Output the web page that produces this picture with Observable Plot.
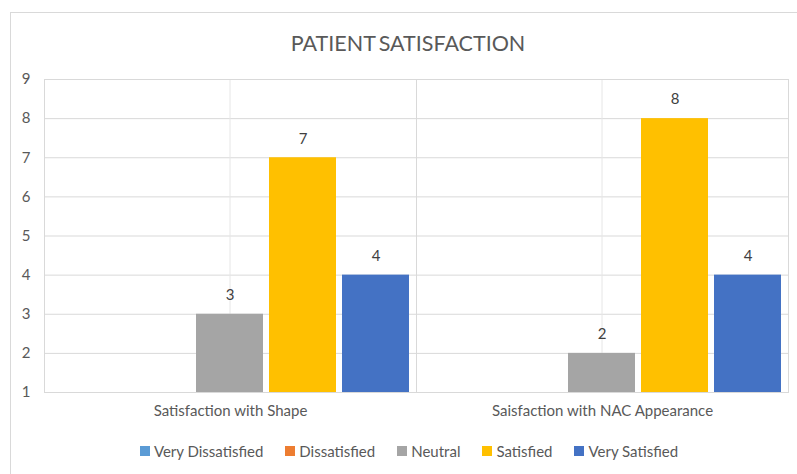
<!DOCTYPE html>
<html><head><meta charset="utf-8">
<script src="https://cdn.jsdelivr.net/npm/d3@7"></script>
<script src="https://cdn.jsdelivr.net/npm/@observablehq/plot@0.6"></script>
<style>
body{margin:0;background:#fff;font-family:Lato,sans-serif;}
#wrap{position:relative;width:797px;height:474px;overflow:hidden;background:#fff;}
#border{position:absolute;left:10px;top:12px;width:800px;height:480px;border:1px solid #d9d9d9;box-sizing:border-box;}
#title{position:absolute;left:0;width:816px;top:30px;text-align:center;font-size:21.5px;color:#595959;line-height:26px;word-spacing:-2px;}
#chart{position:absolute;left:0;top:0;}
#legend{position:absolute;top:434px;left:0;width:818px;display:flex;justify-content:center;}
#legend div{font-size:15px;color:#595959;}
#legend span{margin-right:22px !important;}
#legend span:last-child{margin-right:0 !important;}
#legend svg{margin-right:4px !important;}
</style></head>
<body>
<div id="wrap">
  <div id="border"></div>
  <div id="chart"></div>
  <div id="title">PATIENT SATISFACTION</div>
  <div id="legend"></div>
</div>
<script>
const categories = ["Satisfaction with Shape", "Saisfaction with NAC Appearance"];
const series = ["Very Dissatisfied", "Dissatisfied", "Neutral", "Satisfied", "Very Satisfied"];
const shapeValues = [null, null, 3, 7, 4];
const nacValues = [null, null, 2, 8, 4];
const colors = ["#5B9BD5", "#ED7D31", "#A5A5A5", "#FFC000", "#4472C4"];
const yTicks = [1, 2, 3, 4, 5, 6, 7, 8, 9];

const valueSets = [shapeValues, nacValues];
const rows = categories.flatMap((c, i) => series.map((s, j) => ({category: c, series: s, value: valueSets[i][j]})));
const present = rows.filter(d => d.value != null);

const plot = Plot.plot({
  width: 797,
  height: 430,
  marginLeft: 44,
  marginRight: 9,
  marginTop: 79,
  marginBottom: 38,
  style: {fontFamily: "Lato, sans-serif", fontSize: "15px", color: "#595959", background: "transparent"},
  y: {domain: [1, 9], ticks: yTicks, tickSize: 0, tickPadding: 14, label: null},
  x: {domain: series, padding: 0.08, axis: null},
  fx: {domain: categories, padding: 0, label: null, tickSize: 0, tickPadding: 13, axis: "bottom"},
  color: {domain: series, range: colors},
  marks: [
    Plot.ruleY(yTicks, {y: d => d, stroke: "#d9d9d9", strokeOpacity: 1}),
    Plot.ruleX(categories, {fx: d => d, x: () => "Neutral", stroke: "#e6e6e6", strokeOpacity: 1}),
    Plot.frame({stroke: "#d9d9d9", strokeOpacity: 1}),
    Plot.barY(present, {fx: "category", x: "series", y1: 1, y2: "value", fill: "series"}),
    Plot.text(present, {fx: "category", x: "series", y: "value", text: d => String(d.value), dy: -19, fill: "#404040", fontSize: 15})
  ]
});
document.getElementById("chart").appendChild(plot);

const legend = plot.legend("color", {legend: "swatches", swatchSize: 10, style: {fontFamily: "Lato, sans-serif", fontSize: "15px", color: "#595959"}});
document.getElementById("legend").appendChild(legend);
</script>
</body></html>
